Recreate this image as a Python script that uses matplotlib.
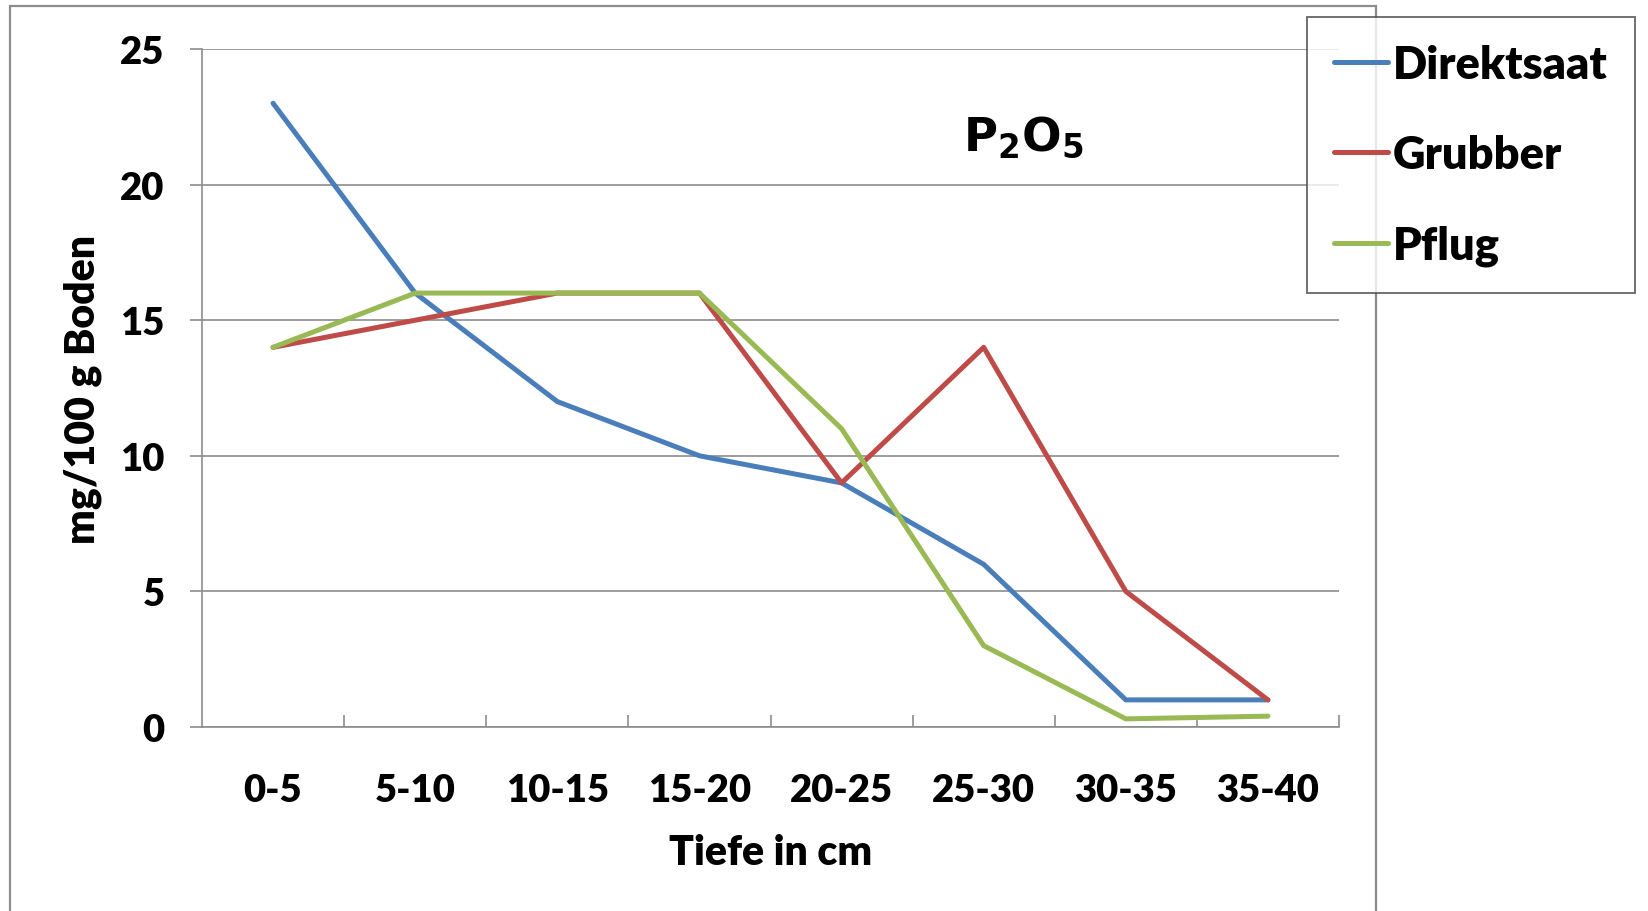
import numpy as np
import matplotlib
matplotlib.use("Agg")
import matplotlib.pyplot as plt
from matplotlib.patches import Rectangle

# ---------------------------------------------------------
# DATA
# ---------------------------------------------------------
depths = ["0-5", "5-10", "10-15", "15-20", "20-25", "25-30", "30-35", "35-40"]
direktsaat = [23, 16, 12, 10, 9, 6, 1, 1]
grubber = [14, 15, 16, 16, 9, 14, 5, 1]
pflug = [14, 16, 16, 16, 11, 3, 0.3, 0.4]

series_names = ["Direktsaat", "Grubber", "Pflug"]
series_colors = ["#4A7EBB", "#BE4B48", "#98B954"]

WEIGHT = "heavy"
plt.rcParams["font.family"] = ["Lato", "DejaVu Sans"]
plt.rcParams["font.weight"] = WEIGHT
plt.rcParams["mathtext.fontset"] = "dejavusans"

W, H = 1648, 912
fig = plt.figure(figsize=(W / 100, H / 100), dpi=100)
fig.patch.set_facecolor("white")

# outer chart frame (runs off the bottom of the picture)
fig.add_artist(Rectangle((10 / W, -0.05), (1376 - 10) / W, 1.05 - 7 / H,
                         transform=fig.transFigure, fill=False,
                         edgecolor="#8c8c8c", linewidth=1.6))

ax = fig.add_axes([202 / W, 1 - 728 / H, (1339 - 202) / W, (728 - 50) / H])

x = np.arange(len(depths))
for vals, name, col in zip([direktsaat, grubber, pflug], series_names, series_colors):
    ax.plot(x, vals, color=col, linewidth=3.6, label=name, solid_capstyle="round")

ax.set_xlim(-0.5, len(depths) - 0.5)
ax.set_ylim(0, 25)
ax.set_yticks(range(0, 26, 5))
ax.yaxis.grid(True, color="#8c8c8c", linewidth=1.2)
ax.set_axisbelow(True)

for s in ["top", "right"]:
    ax.spines[s].set_visible(False)
for s in ["left", "bottom"]:
    ax.spines[s].set_color("#8c8c8c")
    ax.spines[s].set_linewidth(1.2)

ax.set_xticks(x)
ax.set_xticklabels(depths)
ax.set_xticks(np.arange(0.5, len(depths), 1), minor=True)
ax.tick_params(axis="x", which="major", length=0, pad=33, labelsize=27.5)
ax.tick_params(axis="x", which="minor", direction="in", length=9, color="#8c8c8c", width=1.2)
ax.tick_params(axis="y", which="major", direction="out", length=9, color="#8c8c8c",
               width=1.2, pad=18, labelsize=27.5)

ax.set_xlabel("Tiefe in cm", fontsize=29.5, fontweight=WEIGHT, va="center")
ax.xaxis.set_label_coords(0.5, (728 - 853) / 678)
ax.set_ylabel("mg/100 g Boden", fontsize=29.5, fontweight=WEIGHT, va="center")
ax.yaxis.set_label_coords((83 - 202) / 1137, 0.5)

ax.text((1023 - 202) / 1137, (728 - 137) / 678, r"$\mathbf{P_2O_5}$",
        transform=ax.transAxes, fontsize=33.5, ha="center", va="center")

leg = fig.legend(loc="upper left", bbox_to_anchor=(1307 / W, 1 - 18 / H),
                 fontsize=32.5, frameon=True, fancybox=False, handlelength=1.2,
                 handletextpad=0.1, labelspacing=1.09, borderpad=0.6,
                 borderaxespad=0)
leg.get_frame().set_edgecolor("#404040")
leg.get_frame().set_linewidth(1.3)
for t in leg.get_texts():
    t.set_fontweight(WEIGHT)

fig.savefig("out.png", dpi=100)
